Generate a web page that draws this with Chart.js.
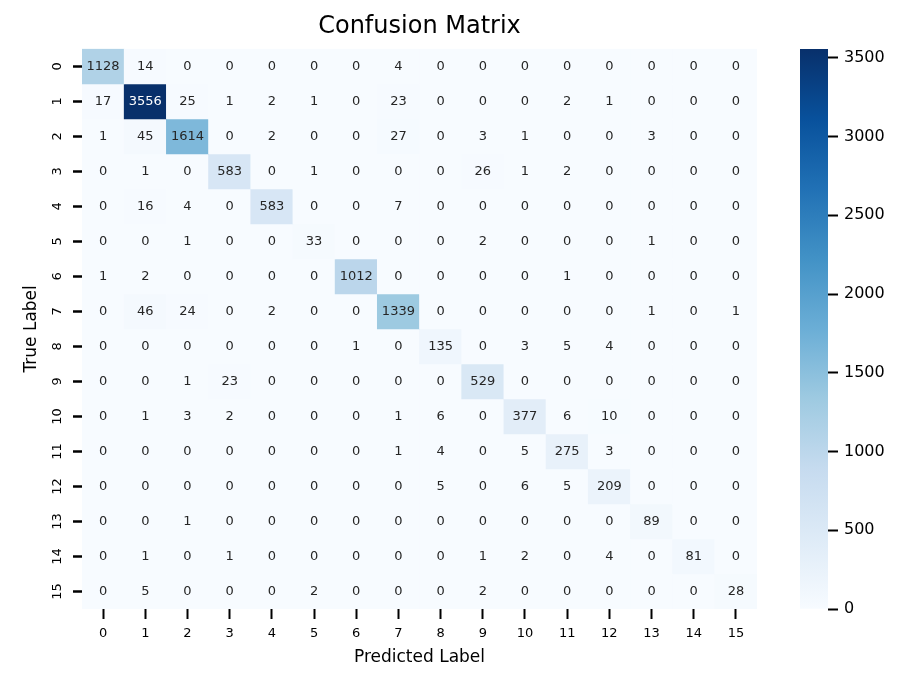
<!DOCTYPE html>
<html>
<head>
<meta charset="utf-8">
<script src="https://cdn.jsdelivr.net/npm/chart.js@4.4.1/dist/chart.umd.min.js"></script>
<style>
  html, body { margin: 0; padding: 0; background: #fff; }
  #wrap { position: relative; width: 918px; height: 687px; }
  #cm { position: absolute; left: 0; top: 0; }
  #cbar { position: absolute; left: 780px; top: 0; }
</style>
</head>
<body>
<div id="wrap">
  <canvas id="cm" width="918" height="687"></canvas>
  <canvas id="cbar" width="138" height="687"></canvas>
</div>
<script>
// ── Data ──────────────────────────────────────────────
const predLabels = ['0','1','2','3','4','5','6','7','8','9','10','11','12','13','14','15'];
const trueLabels = ['0','1','2','3','4','5','6','7','8','9','10','11','12','13','14','15'];

const matrix = [
  [1128,   14,    0,   0,   0,  0,    0,    4,   0,   0,   0,   0,   0,  0,  0,  0],
  [  17, 3556,   25,   1,   2,  1,    0,   23,   0,   0,   0,   2,   1,  0,  0,  0],
  [   1,   45, 1614,   0,   2,  0,    0,   27,   0,   3,   1,   0,   0,  3,  0,  0],
  [   0,    1,    0, 583,   0,  1,    0,    0,   0,  26,   1,   2,   0,  0,  0,  0],
  [   0,   16,    4,   0, 583,  0,    0,    7,   0,   0,   0,   0,   0,  0,  0,  0],
  [   0,    0,    1,   0,   0, 33,    0,    0,   0,   2,   0,   0,   0,  1,  0,  0],
  [   1,    2,    0,   0,   0,  0, 1012,    0,   0,   0,   0,   1,   0,  0,  0,  0],
  [   0,   46,   24,   0,   2,  0,    0, 1339,   0,   0,   0,   0,   0,  1,  0,  1],
  [   0,    0,    0,   0,   0,  0,    1,    0, 135,   0,   3,   5,   4,  0,  0,  0],
  [   0,    0,    1,  23,   0,  0,    0,    0,   0, 529,   0,   0,   0,  0,  0,  0],
  [   0,    1,    3,   2,   0,  0,    0,    1,   6,   0, 377,   6,  10,  0,  0,  0],
  [   0,    0,    0,   0,   0,  0,    0,    1,   4,   0,   5, 275,   3,  0,  0,  0],
  [   0,    0,    0,   0,   0,  0,    0,    0,   5,   0,   6,   5, 209,  0,  0,  0],
  [   0,    0,    1,   0,   0,  0,    0,    0,   0,   0,   0,   0,   0, 89,  0,  0],
  [   0,    1,    0,   1,   0,  0,    0,    0,   0,   1,   2,   0,   4,  0, 81,  0],
  [   0,    5,    0,   0,   0,  2,    0,    0,   0,   2,   0,   0,   0,  0,  0, 28],
];

const cbarTicks = [0, 500, 1000, 1500, 2000, 2500, 3000, 3500];

// matplotlib "Blues"
const blues = [
  [247,251,255],[222,235,247],[198,219,239],[158,202,225],[107,174,214],
  [66,146,198],[33,113,181],[8,81,156],[8,48,107],
];

const vmin = 0;
const vmax = Math.max(...matrix.flat());
const FONT = "'DejaVu Sans', sans-serif";

// ── Colour helpers ────────────────────────────────────
function bluesRGB(t) {
  t = Math.max(0, Math.min(1, t));
  const p = t * (blues.length - 1);
  const i = Math.min(blues.length - 2, Math.floor(p));
  const f = p - i;
  return blues[i].map((c, k) => Math.round(c + (blues[i + 1][k] - c) * f));
}
const rgbStr = c => `rgb(${c[0]},${c[1]},${c[2]})`;
function luminance(c) {
  const l = c.map(v => { v /= 255; return v <= 0.03928 ? v / 12.92 : Math.pow((v + 0.055) / 1.055, 2.4); });
  return 0.2126 * l[0] + 0.7152 * l[1] + 0.0722 * l[2];
}
const cellRGB = v => bluesRGB((v - vmin) / (vmax - vmin));

// ── Heatmap (stacked bars, one dataset per true label) ─
const datasets = trueLabels.map((_, r) => ({
  label: trueLabels[r],
  data: predLabels.map(() => 1),
  backgroundColor: matrix[r].map(v => rgbStr(cellRGB(v))),
  borderWidth: 0,
  barPercentage: 1,
  categoryPercentage: 1,
  stack: 'cm',
}));

const cellText = {
  id: 'cellText',
  afterDatasetsDraw(chart) {
    const { ctx } = chart;
    ctx.save();
    ctx.font = `13px ${FONT}`;
    ctx.textAlign = 'center';
    ctx.textBaseline = 'middle';
    chart.data.datasets.forEach((ds, r) => {
      chart.getDatasetMeta(r).data.forEach((bar, c) => {
        const v = matrix[r][c];
        ctx.fillStyle = luminance(cellRGB(v)) > 0.408 ? '#262626' : '#ffffff';
        ctx.fillText(String(v), bar.x, (bar.y + bar.base) / 2);
      });
    });
    ctx.restore();
  },
};

new Chart(document.getElementById('cm'), {
  type: 'bar',
  data: { labels: predLabels, datasets },
  options: {
    responsive: false,
    animation: false,
    layout: { padding: { left: 0, right: 161, top: 0, bottom: 0 } },
    plugins: {
      legend: { display: false },
      tooltip: { enabled: false },
      title: {
        display: true, text: 'Confusion Matrix', fullSize: false,
        color: '#000', font: { family: FONT, size: 24, weight: 'normal' },
        padding: { top: 12, bottom: 8 },
      },
    },
    scales: {
      x: {
        stacked: true,
        grid: { display: true, offset: false, drawOnChartArea: false, tickLength: 10, tickWidth: 2, tickColor: '#000' },
        border: { display: false },
        ticks: { color: '#000', font: { family: FONT, size: 13 }, padding: 7, maxRotation: 0, minRotation: 0, autoSkip: false },
        title: { display: true, text: 'Predicted Label', color: '#000', font: { family: FONT, size: 17 }, padding: { top: 0, bottom: 19 } },
        afterFit: s => { s.height = 78; },
      },
      y: {
        stacked: true, reverse: true, min: 0, max: trueLabels.length,
        afterBuildTicks: s => { s.ticks = trueLabels.map((_, i) => ({ value: i + 0.5 })); },
        grid: { display: true, drawOnChartArea: false, tickLength: 9, tickWidth: 2.5, tickColor: '#000' },
        border: { display: false },
        ticks: {
          color: '#000', font: { family: FONT, size: 13 }, padding: 7,
          minRotation: 90, maxRotation: 90, crossAlign: 'center', autoSkip: false,
          callback: (v, i) => trueLabels[i],
        },
        title: { display: true, text: 'True Label', color: '#000', font: { family: FONT, size: 17 }, padding: { top: 21, bottom: 0 } },
        afterFit: s => { s.width = 82; },
      },
    },
  },
  plugins: [cellText],
});

// ── Colour bar ────────────────────────────────────────
new Chart(document.getElementById('cbar'), {
  type: 'bar',
  data: {
    labels: [''],
    datasets: [{
      data: [[vmin, vmax]],
      borderWidth: 0, barPercentage: 1, categoryPercentage: 1,
      backgroundColor: (c) => {
        const area = c.chart.chartArea;
        if (!area) return null;
        const g = c.chart.ctx.createLinearGradient(0, area.bottom, 0, area.top);
        blues.forEach((b, i) => g.addColorStop(i / (blues.length - 1), rgbStr(b)));
        return g;
      },
    }],
  },
  options: {
    responsive: false,
    animation: false,
    layout: { padding: { left: 20, right: 0, top: 49, bottom: 78 } },
    plugins: { legend: { display: false }, tooltip: { enabled: false } },
    scales: {
      x: { display: false },
      y: {
        position: 'right', min: vmin, max: vmax,
        afterBuildTicks: s => { s.ticks = cbarTicks.map(v => ({ value: v })); },
        grid: { display: true, drawOnChartArea: false, tickLength: 10, tickWidth: 2, tickColor: '#000' },
        border: { display: false },
        ticks: { color: '#000', font: { family: FONT, size: 16 }, padding: 6, callback: v => String(v) },
        afterFit: s => { s.width = 90; },
      },
    },
  },
});
</script>
</body>
</html>
